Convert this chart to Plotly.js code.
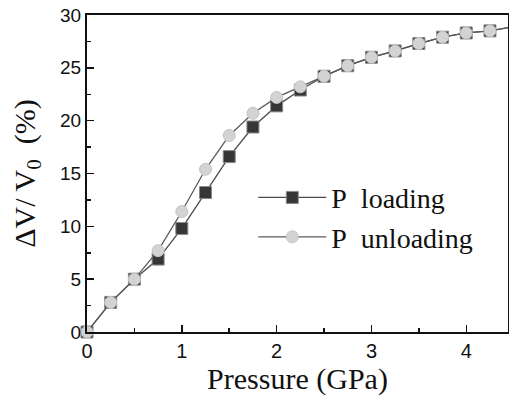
<!DOCTYPE html>
<html>
<head>
<meta charset="utf-8">
<script src="https://cdn.plot.ly/plotly-3.0.1.min.js"></script>
<style>
html,body{margin:0;padding:0;overflow:hidden;background:#fff;}
#chart{width:509px;height:400px;}
</style>
</head>
<body>
<div id="chart"></div>
<script>
const pressure = [0, 0.25, 0.5, 0.75, 1.0, 1.25, 1.5, 1.75, 2.0, 2.25, 2.5, 2.75, 3.0, 3.25, 3.5, 3.75, 4.0, 4.25, 4.5];
const loading = [0, 2.8, 5.0, 6.9, 9.8, 13.2, 16.6, 19.4, 21.4, 22.9, 24.2, 25.2, 26.0, 26.6, 27.3, 27.9, 28.3, 28.5, 28.9];
const unloading = [0, 2.8, 5.0, 7.7, 11.4, 15.4, 18.6, 20.7, 22.2, 23.2, 24.2, 25.2, 26.0, 26.6, 27.3, 27.9, 28.3, 28.5, 28.9];
const seriesNames = ['P\u00a0\u00a0loading', 'P\u00a0\u00a0unloading'];
const xTickVals = [0, 1, 2, 3, 4];
const yTickVals = [0, 5, 10, 15, 20, 25, 30];

const SERIF = '"Liberation Serif", "Times New Roman", Times, serif';
const SANS = '"Liberation Sans", Arial, Helvetica, sans-serif';

const traces = [
  {
    x: pressure, y: loading, name: seriesNames[0], type: 'scatter', mode: 'lines+markers',
    cliponaxis: false,
    line: {color: '#4a4a4a', width: 1.3},
    marker: {symbol: 'square', size: 12, color: '#363636', line: {color: '#8a8a8a', width: 1}}
  },
  {
    x: pressure, y: unloading, name: seriesNames[1], type: 'scatter', mode: 'lines+markers',
    cliponaxis: false,
    line: {color: '#5a5a5a', width: 1.3},
    marker: {symbol: 'circle', size: 12, color: '#d3d3d3', line: {color: '#c4c4c4', width: 1}}
  }
];

const layout = {
  width: 509, height: 400,
  margin: {l: 87, r: 1, t: 15, b: 68},
  paper_bgcolor: '#fff', plot_bgcolor: '#fff',
  showlegend: true,
  legend: {
    x: 0.395, y: 0.362, xanchor: 'left', yanchor: 'middle',
    font: {family: SERIF, size: 28, color: '#111'},
    bgcolor: 'rgba(0,0,0,0)', borderwidth: 0,
    itemwidth: 68, tracegroupgap: 0
  },
  xaxis: {
    range: [0, 4.44], showgrid: false, zeroline: false,
    showline: true, linecolor: '#111', linewidth: 2, mirror: true,
    ticks: 'inside', ticklen: 7, tickwidth: 1.5, tickcolor: '#111',
    tickvals: xTickVals, ticktext: xTickVals.map(String),
    minor: {dtick: 0.5, ticks: 'inside', ticklen: 4, tickwidth: 1.5, tickcolor: '#111'},
    tickfont: {family: SANS, size: 20, color: '#111'},
    title: {text: 'Pressure (GPa)', font: {family: SERIF, size: 30, color: '#111'}, standoff: 1}
  },
  yaxis: {
    range: [0, 30], showgrid: false, zeroline: false,
    showline: true, linecolor: '#111', linewidth: 2, mirror: true,
    ticks: 'inside', ticklen: 7, tickwidth: 1.5, tickcolor: '#111',
    tickvals: yTickVals, ticktext: yTickVals.map(String),
    minor: {dtick: 2.5, ticks: 'inside', ticklen: 4, tickwidth: 1.5, tickcolor: '#111'},
    tickfont: {family: SANS, size: 19, color: '#111'},
    title: {text: 'ΔV/ V<sub>0</sub>\u00a0\u00a0(%)', font: {family: SERIF, size: 30, color: '#111'}, standoff: 16}
  }
};

Plotly.newPlot('chart', traces, layout, {displayModeBar: false, staticPlot: true});
</script>
</body>
</html>
